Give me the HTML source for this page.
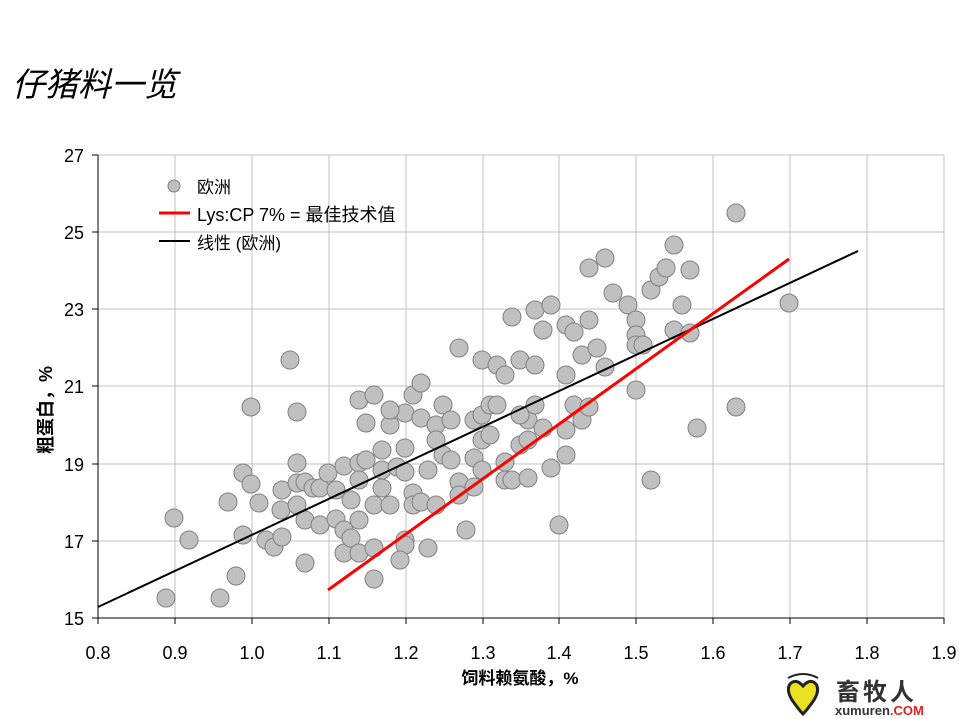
<!DOCTYPE html>
<html><head><meta charset="utf-8"><style>
body{margin:0;background:#fff;width:959px;height:719px;overflow:hidden}
svg{display:block}
text{font-family:"Liberation Sans","Noto Sans CJK SC",sans-serif}
</style></head><body>
<svg width="959" height="719" viewBox="0 0 959 719">
<text x="12" y="96" font-size="33" font-style="italic" font-family="'Liberation Serif','Noto Serif CJK SC',serif">仔猪料一览</text>
<g stroke="#c0c0c0" stroke-width="1">
<line x1="98" y1="155" x2="944" y2="155"/><line x1="98" y1="232" x2="944" y2="232"/><line x1="98" y1="309" x2="944" y2="309"/><line x1="98" y1="386" x2="944" y2="386"/><line x1="98" y1="464" x2="944" y2="464"/><line x1="98" y1="541" x2="944" y2="541"/>
<line x1="175" y1="155" x2="175" y2="618"/><line x1="252" y1="155" x2="252" y2="618"/><line x1="329" y1="155" x2="329" y2="618"/><line x1="406" y1="155" x2="406" y2="618"/><line x1="483" y1="155" x2="483" y2="618"/><line x1="559" y1="155" x2="559" y2="618"/><line x1="636" y1="155" x2="636" y2="618"/><line x1="713" y1="155" x2="713" y2="618"/><line x1="790" y1="155" x2="790" y2="618"/><line x1="867" y1="155" x2="867" y2="618"/><line x1="944" y1="155" x2="944" y2="618"/>
</g>
<g stroke="#000" stroke-width="1">
<line x1="98" y1="155" x2="98" y2="618"/><line x1="98" y1="618" x2="944" y2="618"/>
<line x1="92" y1="155" x2="98" y2="155"/><line x1="92" y1="232" x2="98" y2="232"/><line x1="92" y1="309" x2="98" y2="309"/><line x1="92" y1="386" x2="98" y2="386"/><line x1="92" y1="464" x2="98" y2="464"/><line x1="92" y1="541" x2="98" y2="541"/><line x1="92" y1="618" x2="98" y2="618"/>
<line x1="98" y1="618" x2="98" y2="624"/><line x1="175" y1="618" x2="175" y2="624"/><line x1="252" y1="618" x2="252" y2="624"/><line x1="329" y1="618" x2="329" y2="624"/><line x1="406" y1="618" x2="406" y2="624"/><line x1="483" y1="618" x2="483" y2="624"/><line x1="559" y1="618" x2="559" y2="624"/><line x1="636" y1="618" x2="636" y2="624"/><line x1="713" y1="618" x2="713" y2="624"/><line x1="790" y1="618" x2="790" y2="624"/><line x1="867" y1="618" x2="867" y2="624"/><line x1="944" y1="618" x2="944" y2="624"/>
</g>
<g font-size="18" text-anchor="end">
<text x="84" y="162">27</text><text x="84" y="239">25</text><text x="84" y="316">23</text><text x="84" y="393">21</text><text x="84" y="471">19</text><text x="84" y="548">17</text><text x="84" y="625">15</text>
</g>
<g font-size="18" text-anchor="middle">
<text x="98" y="659">0.8</text><text x="175" y="659">0.9</text><text x="252" y="659">1.0</text><text x="329" y="659">1.1</text><text x="406" y="659">1.2</text><text x="483" y="659">1.3</text><text x="559" y="659">1.4</text><text x="636" y="659">1.5</text><text x="713" y="659">1.6</text><text x="790" y="659">1.7</text><text x="867" y="659">1.8</text><text x="944" y="659">1.9</text>
</g>
<text x="520" y="684" font-size="17" text-anchor="middle" font-weight="bold">饲料赖氨酸，%</text>
<text transform="translate(52,410) rotate(-90)" font-size="18" text-anchor="middle" font-weight="bold">粗蛋白，%</text>
<g fill="#c0c0c0" stroke="#808080" stroke-width="1">
<circle cx="166" cy="598" r="9"/><circle cx="174" cy="518" r="9"/><circle cx="189" cy="540" r="9"/><circle cx="220" cy="598" r="9"/><circle cx="228" cy="502" r="9"/><circle cx="236" cy="576" r="9"/><circle cx="243" cy="473" r="9"/><circle cx="243" cy="535" r="9"/><circle cx="251" cy="484" r="9"/><circle cx="251" cy="407" r="9"/><circle cx="259" cy="503" r="9"/><circle cx="266" cy="540" r="9"/><circle cx="274" cy="547" r="9"/><circle cx="282" cy="490" r="9"/><circle cx="282" cy="537" r="9"/><circle cx="281" cy="510" r="9"/><circle cx="290" cy="360" r="9"/><circle cx="297" cy="412" r="9"/><circle cx="297" cy="463" r="9"/><circle cx="297" cy="483" r="9"/><circle cx="297" cy="505" r="9"/><circle cx="305" cy="482" r="9"/><circle cx="305" cy="520" r="9"/><circle cx="305" cy="563" r="9"/><circle cx="313" cy="488" r="9"/><circle cx="320" cy="488" r="9"/><circle cx="320" cy="525" r="9"/><circle cx="328" cy="473" r="9"/><circle cx="336" cy="519" r="9"/><circle cx="336" cy="490" r="9"/><circle cx="344" cy="466" r="9"/><circle cx="344" cy="530" r="9"/><circle cx="344" cy="553" r="9"/><circle cx="351" cy="500" r="9"/><circle cx="351" cy="538" r="9"/><circle cx="359" cy="400" r="9"/><circle cx="359" cy="463" r="9"/><circle cx="359" cy="480" r="9"/><circle cx="359" cy="520" r="9"/><circle cx="359" cy="553" r="9"/><circle cx="366" cy="423" r="9"/><circle cx="366" cy="460" r="9"/><circle cx="374" cy="395" r="9"/><circle cx="374" cy="505" r="9"/><circle cx="374" cy="548" r="9"/><circle cx="374" cy="579" r="9"/><circle cx="382" cy="450" r="9"/><circle cx="382" cy="470" r="9"/><circle cx="382" cy="488" r="9"/><circle cx="390" cy="425" r="9"/><circle cx="390" cy="505" r="9"/><circle cx="397" cy="467" r="9"/><circle cx="405" cy="413" r="9"/><circle cx="405" cy="448" r="9"/><circle cx="405" cy="472" r="9"/><circle cx="405" cy="540" r="9"/><circle cx="405" cy="545" r="9"/><circle cx="413" cy="395" r="9"/><circle cx="413" cy="493" r="9"/><circle cx="413" cy="505" r="9"/><circle cx="421" cy="383" r="9"/><circle cx="421" cy="418" r="9"/><circle cx="421" cy="502" r="9"/><circle cx="428" cy="470" r="9"/><circle cx="428" cy="548" r="9"/><circle cx="436" cy="425" r="9"/><circle cx="436" cy="440" r="9"/><circle cx="436" cy="505" r="9"/><circle cx="443" cy="405" r="9"/><circle cx="443" cy="455" r="9"/><circle cx="451" cy="420" r="9"/><circle cx="451" cy="460" r="9"/><circle cx="459" cy="348" r="9"/><circle cx="459" cy="482" r="9"/><circle cx="459" cy="495" r="9"/><circle cx="466" cy="530" r="9"/><circle cx="474" cy="420" r="9"/><circle cx="474" cy="458" r="9"/><circle cx="474" cy="487" r="9"/><circle cx="482" cy="360" r="9"/><circle cx="482" cy="415" r="9"/><circle cx="482" cy="440" r="9"/><circle cx="482" cy="470" r="9"/><circle cx="490" cy="405" r="9"/><circle cx="490" cy="435" r="9"/><circle cx="497" cy="365" r="9"/><circle cx="497" cy="405" r="9"/><circle cx="505" cy="375" r="9"/><circle cx="505" cy="462" r="9"/><circle cx="505" cy="480" r="9"/><circle cx="512" cy="317" r="9"/><circle cx="512" cy="480" r="9"/><circle cx="520" cy="360" r="9"/><circle cx="520" cy="445" r="9"/><circle cx="528" cy="420" r="9"/><circle cx="528" cy="478" r="9"/><circle cx="535" cy="310" r="9"/><circle cx="535" cy="365" r="9"/><circle cx="535" cy="405" r="9"/><circle cx="543" cy="330" r="9"/><circle cx="543" cy="428" r="9"/><circle cx="551" cy="305" r="9"/><circle cx="551" cy="468" r="9"/><circle cx="566" cy="325" r="9"/><circle cx="566" cy="375" r="9"/><circle cx="566" cy="430" r="9"/><circle cx="566" cy="455" r="9"/><circle cx="574" cy="332" r="9"/><circle cx="574" cy="405" r="9"/><circle cx="582" cy="355" r="9"/><circle cx="582" cy="420" r="9"/><circle cx="589" cy="320" r="9"/><circle cx="589" cy="407" r="9"/><circle cx="589" cy="268" r="9"/><circle cx="597" cy="348" r="9"/><circle cx="605" cy="258" r="9"/><circle cx="605" cy="367" r="9"/><circle cx="613" cy="293" r="9"/><circle cx="628" cy="305" r="9"/><circle cx="636" cy="320" r="9"/><circle cx="636" cy="335" r="9"/><circle cx="636" cy="345" r="9"/><circle cx="636" cy="390" r="9"/><circle cx="643" cy="345" r="9"/><circle cx="651" cy="480" r="9"/><circle cx="651" cy="290" r="9"/><circle cx="659" cy="277" r="9"/><circle cx="666" cy="268" r="9"/><circle cx="674" cy="245" r="9"/><circle cx="674" cy="330" r="9"/><circle cx="682" cy="305" r="9"/><circle cx="690" cy="270" r="9"/><circle cx="690" cy="333" r="9"/><circle cx="697" cy="428" r="9"/><circle cx="736" cy="213" r="9"/><circle cx="736" cy="407" r="9"/><circle cx="789" cy="303" r="9"/><circle cx="559" cy="525" r="9"/><circle cx="520" cy="415" r="9"/><circle cx="528" cy="440" r="9"/><circle cx="400" cy="560" r="9"/><circle cx="390" cy="410" r="9"/>
</g>
<line x1="98" y1="607" x2="858" y2="251" stroke="#000" stroke-width="2"/>
<line x1="328" y1="590" x2="789" y2="259" stroke="#f00" stroke-width="3"/>
<circle cx="174" cy="186" r="6" fill="#c0c0c0" stroke="#808080"/>
<text x="197" y="193" font-size="17">欧洲</text>
<line x1="159" y1="213" x2="190" y2="213" stroke="#f00" stroke-width="3"/>
<text x="197" y="221" font-size="18">Lys:CP 7% = 最佳技术值</text>
<line x1="159" y1="241" x2="190" y2="241" stroke="#000" stroke-width="2"/>
<text x="197" y="249" font-size="17">线性 (欧洲)</text>
<g transform="translate(786,676)">
<path d="M4 8 Q0 14 6 24 Q13 34 17 38 Q21 34 28 24 Q34 14 30 8 Q24 2 17 10 Q10 2 4 8Z" fill="#e8e020" stroke="#222" stroke-width="3"/>
<path d="M2 2 Q17 -6 32 2" fill="none" stroke="#222" stroke-width="2"/>
</g>
<text x="836" y="700" font-size="24" font-weight="bold" fill="#333" font-family="'Noto Serif CJK SC',serif" letter-spacing="3">畜牧人</text>
<text x="835" y="715" font-size="13" font-weight="bold" fill="#333" font-family="'Liberation Serif',serif">xumuren<tspan fill="#d22">.COM</tspan></text>
</svg>
</body></html>
